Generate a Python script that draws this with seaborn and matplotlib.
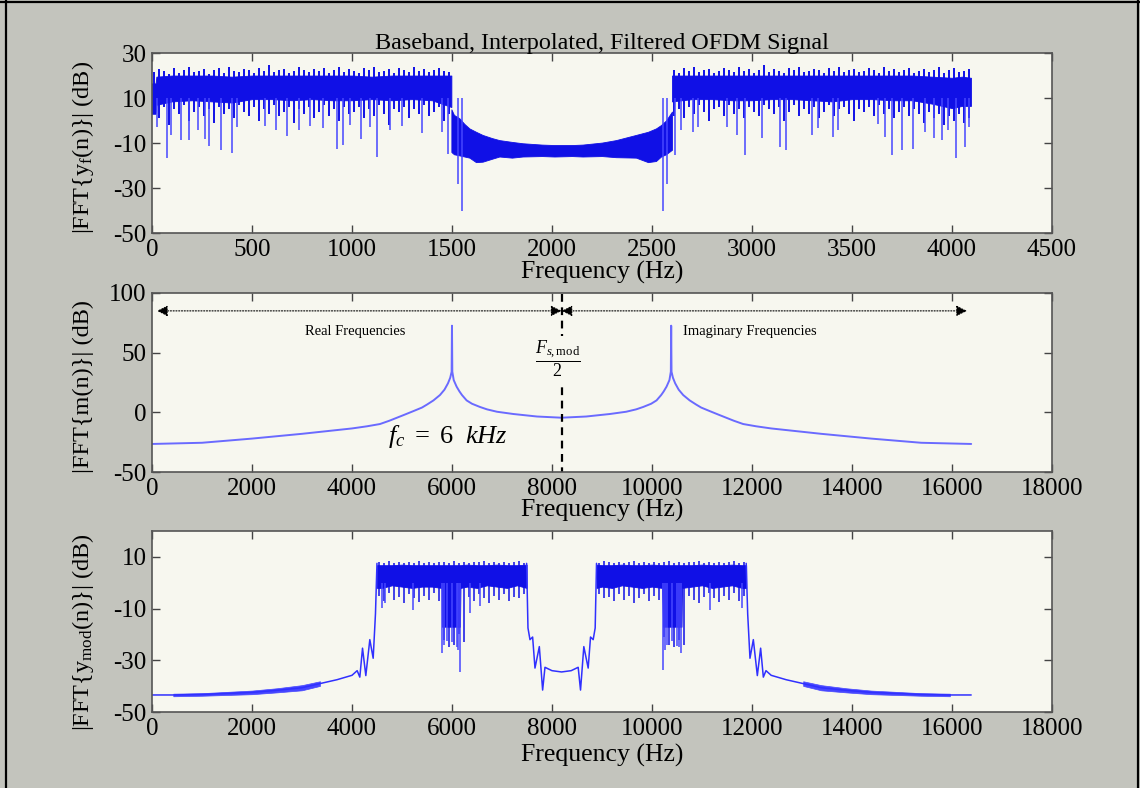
import numpy as np
import pandas as pd
import matplotlib
matplotlib.use("Agg")
import matplotlib.pyplot as plt
import seaborn as sns
from matplotlib.lines import Line2D

# ---------------- top panel: baseband spectrum |FFT{y_f(n)}| ----------------
# dense occupied band (left): solid core envelope
yL_f = [0, 18, 22, 100, 200, 300, 400, 500, 600, 700, 800, 900, 1000, 1100, 1200, 1300, 1400, 1497]
yL_hi = [16.5, 16.5, 19.5, 20, 20, 20, 19.5, 20, 20, 20, 20, 20, 20, 19.5, 20, 20, 20, 20]
yL_lo = [3, 3, 7, 8.5, 9, 8.5, 8, 9.5, 9.5, 9, 9.5, 9, 9, 9.5, 9, 9.5, 9, 6]
# dense occupied band (right)
yR_f = [2600, 2700, 2800, 2900, 3000, 3100, 3200, 3300, 3400, 3500, 3600, 3700, 3800, 3900, 4000, 4050, 4095]
yR_hi = [20, 20, 20, 20, 20, 20, 20, 20, 20, 20, 20, 20, 20, 19.5, 19, 19.5, 19]
yR_lo = [8.5, 9.5, 9.5, 9, 9, 9.5, 9.5, 9, 8.5, 9.5, 9.5, 9, 9, 7.5, 5.5, 6.5, 6.5]
# per-bin excursions above and below the core (bins every 25 Hz)
yL_bins = np.arange(12, 1500, 25)
yL_pk = [21.5, 23, 22, 20.5, 23.5, 21, 22.5, 24, 21.5, 22, 23, 20.5, 22.5, 23.5, 21, 24, 22, 21.5, 23, 22.5,
         21, 23.5, 22, 24.5, 21.5, 22.5, 23, 21, 22, 24, 22.5, 21.5, 23, 22, 23.5, 21, 22.5, 24, 21.5, 23,
         22, 21, 23.5, 22.5, 24, 21.5, 22, 23, 21, 23.5, 22.5, 21.5, 24, 22, 23, 21.5, 22.5, 23.5, 22, 21.5]
yL_tr = [4, 1, 6, -2, 5, 3, 7, 0, 4, 6, 2, 5, -1, 6, 3, 5, 1, 7, 4, 2,
         6, 0, 5, 3, 7, 2, 4, 6, -1, 5, 3, 6, 1, 4, 7, 2, 5, 0, 6, 3,
         4, 6, 1, 5, 2, 7, 3, -2, 5, 4, 6, 1, 5, 3, 7, 2, 4, 6, 0, 3]
yR_bins = np.arange(2612, 4095, 25)
yR_pk = [22.5, 21, 23.5, 22, 24, 21.5, 22.5, 23, 21, 22, 23.5, 22.5, 21.5, 24, 22, 23, 21, 22.5, 24.5, 21.5,
         23, 22, 21, 23.5, 22.5, 24, 21.5, 22, 23, 22.5, 21, 23.5, 22, 24, 21.5, 22.5, 23, 21.5, 22, 23.5,
         22.5, 21, 24, 22, 23, 21.5, 22.5, 23.5, 21, 22, 23, 21.5, 22.5, 24, 21, 22.5, 23.5, 21.5, 22, 23]
yR_tr = [2, 5, 1, 6, 3, 7, 4, 0, 5, 6, 2, 7, 3, 5, 1, 6, 4, 2, 7, 5,
         3, 6, 0, 4, 7, 2, 5, 3, 6, 1, 4, 7, 2, 5, 6, 3, 0, 5, 4, 6,
         2, 7, 3, 5, 1, 4, 6, 2, 5, 3, -1, 4, 1, 3, -2, 2, 0, 3, -1, 1]
# filtered stop band between the two occupied bands
yM_f = [1497, 1510, 1537, 1562, 1587, 1620, 1653, 1700, 1737, 1800, 1853, 1950, 2012,
        2100, 2153, 2250, 2320, 2420, 2480, 2520, 2545, 2570, 2600]
yM_hi = [5, 2.5, 1, -1.5, -3.5, -5, -6.4, -7.8, -8.7, -9.5, -10.1, -10.7, -10.9,
         -10.9, -10.7, -9.8, -8.7, -6.4, -5, -3.5, -2, 0, 4]
yM_lo = [-14, -15, -15.5, -16, -16.5, -18.5, -18.3, -17, -16, -16.5, -16, -15.8, -16,
         -15.8, -16, -15.8, -16.3, -16.5, -18.5, -18, -16, -15, -13]
# deep nulls
yDn_f = [23, 77, 93, 143, 187, 230, 265, 287, 343, 398, 427, 565, 620, 677, 737, 790,
         857, 923, 957, 990, 1043, 1090, 1123, 1190, 1248, 1348, 1448, 1482,
         1530, 1548, 2557, 2575,
         2615, 2645, 2707, 2732, 2873, 2923, 2965, 3052, 3140, 3168,
         3298, 3332, 3407, 3432, 3632, 3665, 3698, 3752, 3807, 3865, 3912, 3952,
         3982, 4018, 4065, 4085]
yDn_db = [-3, -16.5, -6.5, -8.5, -8.5, -4, -8, -11.5, -13, -14.5, -3, -2.5, -4, -7, -4, -2.5,
          -3.5, -12.5, -11, -2, -8, -3, -16, -4, -2.5, -5.5, -5, -15,
          -28, -40, -40, -28,
          -15.3, -4.2, -5, -2.7, -2.7, -6.4, -15.3, -7.9, -11.8, -13.3,
          -6.4, -3.5, -7.2, -4.2, -1.6, -7.2, -15.5, -13.3, -12.6, -5, -7.9, -8.7,
          -4.2, -16.8, -11.8, -2.7]

# ---------------- middle panel: modulating carrier |FFT{m(n)}| ----------------
m_f = [0, 1000, 2000, 3000, 4000, 4300, 4560, 4750, 4900, 5050, 5227, 5400, 5500, 5630, 5760, 5850,
       5920, 5965, 5993, 6000, 6007, 6035, 6093, 6150, 6200, 6293, 6400, 6560, 6700, 6900, 7227,
       7700, 8192,
       8684, 9157, 9484, 9684, 9824, 9984, 10091, 10184, 10234, 10291, 10349, 10377, 10384, 10391,
       10419, 10464, 10534, 10624, 10754, 10884, 10984, 11157, 11334, 11484, 11634, 11824, 12084,
       12384, 13384, 14384, 15384, 16384]
m_db = [-26.5, -25.5, -22, -18, -13.5, -11.7, -9.8, -7, -4.5, -2, 1, 4, 6.5, 10, 14.5, 19,
        24.3, 29, 34, 72.6, 34, 27, 21.5, 17.5, 14.5, 10, 7.2, 4.5, 2.5, 0.5, -1.4,
        -3.5, -4.5,
        -3.5, -1.4, 0.5, 2.5, 4.5, 7.2, 10, 14.5, 17.5, 21.5, 27, 34, 72.6, 34,
        29, 24.3, 19, 14.5, 10, 6.5, 4, 1, -2, -4.5, -7, -9.8, -11.7,
        -13.5, -18, -22, -25.5, -26.5]

# ---------------- bottom panel: modulated signal |FFT{y_mod(n)}| ----------------
b1_f = [4500, 4600, 4800, 5000, 5200, 5400, 5600, 5793, 5800, 6160, 6170, 6300, 6500, 6700, 6900, 7100, 7300, 7493]
b1_hi = [6.8, 6.8, 6.8, 7, 6.8, 6.8, 6.8, 6.8, 6.8, 6.8, 6.8, 7, 6.8, 6.8, 7, 6.8, 6.8, 7]
b1_lo = [-2, -2, -1, -1.5, -2, -1.5, -1.5, -2, -17, -17, -2, -1.5, -2, -1, -1.5, -2, -1, -2]
b2_f = [8891, 9000, 9200, 9400, 9600, 9800, 10000, 10200, 10224, 10591, 10600, 10800, 11000, 11200, 11400, 11600, 11800, 11884]
b2_hi = [7, 6.8, 6.8, 7, 6.8, 6.8, 7, 6.8, 6.8, 6.8, 6.8, 6.8, 7, 6.8, 6.8, 7, 6.8, 6.8]
b2_lo = [-2, -1.5, -2, -1, -1.5, -2, -1.5, -2, -17, -17, -2, -1.5, -1, -2, -1.5, -1, -2, -2]
# per-bin excursions (bins every 100 Hz)
b1_bins = np.arange(4550, 7500, 100)
b1_pk = [8, 7.5, 8.3, 7.8, 8, 7.6, 8.2, 7.8, 8.3, 7.5, 8, 7.7, 8.2, 8, 7.6, 8.3, 7.8, 8, 7.5, 8.2,
         7.9, 8.3, 7.6, 8, 7.8, 8.2, 7.5, 8, 8.3, 7.8]
b1_tr = [-5, -7, -4, -6.5, -5.5, -8, -4.5, -6, -7.5, -5, -6.5, -4, -7, -22, -25, -24, -20, -23, -5.5, -7,
         -4.5, -6, -8, -5, -6.5, -4.5, -7, -5.5, -6, -4.5]
b2_bins = np.arange(8941, 11884, 100)
b2_pk = [7.8, 8.3, 8, 7.5, 8.2, 7.8, 8, 8.3, 7.6, 8, 7.8, 8.2, 7.5, 8, 8.3, 7.7, 8, 7.6, 8.2, 7.9,
         8.3, 7.5, 8, 7.8, 8.2, 7.6, 8, 8.3, 7.7, 8]
b2_tr = [-4.5, -6, -5.5, -7, -4.5, -6.5, -5, -8, -6, -4.5, -7, -5, -6.5, -21, -24, -25, -22, -24, -5, -6.5,
         -8, -5.5, -4, -6, -7.5, -5, -6.5, -4, -7, -5]
bDn_f = [4593, 4660, 5227, 5800, 5850, 5900, 6000, 6100, 6130, 6160, 6360, 6560,
         10224, 10260, 10300, 10400, 10500, 10540, 10580, 11157, 11791]
bDn_db = [-9.8, -7.8, -10.4, -27, -24, -22.5, -23, -25, -26, -34.4, -11.7, -9.1,
          -33.7, -26, -24, -22.5, -24.5, -25, -27, -10.4, -9.8]
# skirts and the region between the two bands
sL_f = [0, 427, 1000, 1500, 2000, 2500, 3000, 3360, 3700, 4000, 4104, 4157, 4211, 4277, 4357, 4424, 4470, 4500]
sL_db = [-43.4, -43.4, -43.2, -42.8, -42.4, -41.6, -40.6, -39, -37.5, -35.8, -34, -36.5, -25.3, -35.9, -22, -29.2, -12, 7.5]
nL_f = [427, 1000, 1500, 2000, 2500, 3000, 3360]
nL_hi = [-42.9, -42.7, -42.2, -41.7, -40.8, -39.6, -38.1]
nL_lo = [-43.9, -43.7, -43.4, -43.1, -42.4, -41.6, -39.9]
cg_f = [7493, 7520, 7560, 7613, 7660, 7747, 7813, 7860, 8000, 8192, 8384, 8524, 8571, 8637, 8724, 8771, 8824, 8864, 8891]
cg_db = [7.5, -17.5, -22, -21, -33, -24.7, -41.5, -32.7, -34, -34.5, -34, -32.7, -41.5, -24.7, -33, -21, -22, -17.5, 7.5]
sR_f = [11884, 11914, 11960, 12027, 12107, 12173, 12227, 12280, 12384, 12684, 13024, 13384, 13884, 14384, 14884, 15384, 15957, 16384]
sR_db = [7.5, -12, -29.2, -22, -35.9, -25.3, -36.5, -34, -35.8, -37.5, -39, -40.6, -41.6, -42.4, -42.8, -43.2, -43.4, -43.4]
nR_f = [13024, 13384, 13884, 14384, 14884, 15384, 15957]
nR_hi = [-38.1, -39.6, -40.8, -41.7, -42.2, -42.7, -42.9]
nR_lo = [-39.9, -41.6, -42.4, -43.1, -43.4, -43.7, -43.9]

# ---------------- style ----------------
sns.set_theme(style="ticks")
FIG_BG = "#c3c4bd"
AX_BG = "#f7f7ef"
plt.rcParams.update({
    "font.family": ["Liberation Serif", "DejaVu Serif"],
    "mathtext.fontset": "custom",
    "mathtext.rm": "Liberation Serif",
    "mathtext.it": "Liberation Serif:italic",
    "mathtext.bf": "Liberation Serif:bold",
    "axes.unicode_minus": False,
    "axes.edgecolor": "#555555",
    "axes.linewidth": 1.2,
    "text.color": "black",
    "axes.titlecolor": "black",
    "axes.labelcolor": "black",
})
BLUE = "#1010e6"
BLUE_L = "#4646ff"
TICK_FS = 18
XLAB_FS = 18.5
YLAB_FS = 17.5
TITLE_FS = 17.4

fig = plt.figure(figsize=(11.4, 7.88), dpi=100, facecolor=FIG_BG)
ax1 = fig.add_axes([0.1333, 0.7043, 0.7895, 0.2284])
ax2 = fig.add_axes([0.1333, 0.4010, 0.7895, 0.2272])
ax3 = fig.add_axes([0.1333, 0.0964, 0.7895, 0.2297])


def style_axes(ax, xlim, xticks, ylim, yticks):
    ax.set_facecolor(AX_BG)
    ax.set_xlim(*xlim)
    ax.set_ylim(*ylim)
    ax.set_xticks(xticks)
    ax.set_yticks(yticks)
    ax.tick_params(direction="in", length=6, width=1, top=True, right=True,
                   color="#444444", labelcolor="black", labelsize=TICK_FS, pad=4)
    for s in ax.spines.values():
        s.set_visible(True)
        s.set_color("#555555")
    ax.set_xlabel("")
    ax.set_ylabel("")


def band(ax, f, hi, lo):
    ax.fill_between(f, lo, hi, color=BLUE, lw=0.6, edgecolor=BLUE)


# top panel
band(ax1, yL_f, yL_hi, yL_lo)
band(ax1, yR_f, yR_hi, yR_lo)
band(ax1, yM_f, yM_hi, yM_lo)
ax1.vlines(yL_bins, yL_tr, yL_pk, color=BLUE, lw=1.4)
ax1.vlines(yR_bins, yR_tr, yR_pk, color=BLUE, lw=1.4)
ax1.vlines(yDn_f, yDn_db, 10, color=BLUE_L, lw=1.1)
style_axes(ax1, (0, 4500), np.arange(0, 4501, 500), (-50, 30), [-50, -30, -10, 10, 30])
ax1.set_title("Baseband, Interpolated, Filtered OFDM Signal", fontsize=TITLE_FS, pad=3)

# middle panel
sns.lineplot(x=m_f, y=m_db, ax=ax2, color="#6a6aff", lw=1.4, sort=False, estimator=None)
style_axes(ax2, (0, 18000), np.arange(0, 18001, 2000), (-50, 100), [-50, 0, 50, 100])
arrow = dict(arrowstyle="<|-|>", linestyle=(0, (1, 1.5)), color="black", lw=0.8,
             mutation_scale=16, shrinkA=0, shrinkB=0)
ax2.annotate("", xy=(100, 85), xytext=(8192, 85), arrowprops=arrow)
ax2.annotate("", xy=(8192, 85), xytext=(16300, 85), arrowprops=arrow)
ax2.plot([8192, 8192], [99, -50], color="black", lw=1.6, ls=(0, (3.5, 2.5)))
ax2.text(4060, 67.6, "Real Frequencies", fontsize=10.5, ha="center", va="center")
ax2.text(11960, 67.6, "Imaginary Frequencies", fontsize=10.5, ha="center", va="center")
ax2.text(8120, 45, r"$\dfrac{F_{s,\mathrm{mod}}}{2}$", fontsize=13, ha="center", va="center",
         bbox=dict(facecolor=AX_BG, edgecolor="none", pad=2))
ax2.text(5920, -20.5, r"$f_c\ =\ 6\ \ kHz$", fontsize=19, ha="center", va="center")

# bottom panel
band(ax3, b1_f, b1_hi, b1_lo)
band(ax3, b2_f, b2_hi, b2_lo)
ax3.vlines(b1_bins, b1_tr, b1_pk, color=BLUE, lw=1.1)
ax3.vlines(b2_bins, b2_tr, b2_pk, color=BLUE, lw=1.1)
ax3.vlines(bDn_f, bDn_db, 0, color=BLUE_L, lw=1.1)
ax3.fill_between(nL_f, nL_lo, nL_hi, color=BLUE_L, lw=0.5, edgecolor=BLUE_L)
ax3.fill_between(nR_f, nR_lo, nR_hi, color=BLUE_L, lw=0.5, edgecolor=BLUE_L)
for fx, dbx in [(sL_f, sL_db), (cg_f, cg_db), (sR_f, sR_db)]:
    sns.lineplot(x=fx, y=dbx, ax=ax3, color="#3030ff", lw=1.1, sort=False, estimator=None)
style_axes(ax3, (0, 18000), np.arange(0, 18001, 2000), (-50, 20), [-50, -30, -10, 10])

# axis labels
ylabels = [(ax1, r"|FFT{y$_\mathrm{f}$(n)}| (dB)", 0.475),
           (ax2, r"|FFT{m(n)}| (dB)", 0.475),
           (ax3, r"|FFT{y$_\mathrm{mod}$(n)}| (dB)", 0.443)]
for ax, txt, yc in ylabels:
    ax.text(-0.0767, yc, txt, rotation=90, fontsize=YLAB_FS, ha="center", va="center",
            transform=ax.transAxes)
for ax, yo in [(ax1, -0.217), (ax2, -0.212), (ax3, -0.238)]:
    ax.text(0.5, yo, "Frequency (Hz)", fontsize=XLAB_FS, ha="center", va="center",
            transform=ax.transAxes)

# outer frame
fig.add_artist(Line2D([5.5 / 1140, 5.5 / 1140], [0, 1], color="black", lw=1.6, transform=fig.transFigure))
fig.add_artist(Line2D([0, 1], [1 - 1.5 / 788, 1 - 1.5 / 788], color="black", lw=1.6, transform=fig.transFigure))
fig.add_artist(Line2D([1137.5 / 1140, 1137.5 / 1140], [0, 1], color="black", lw=1.6, transform=fig.transFigure))

fig.savefig("out.png", dpi=100, facecolor=FIG_BG)
